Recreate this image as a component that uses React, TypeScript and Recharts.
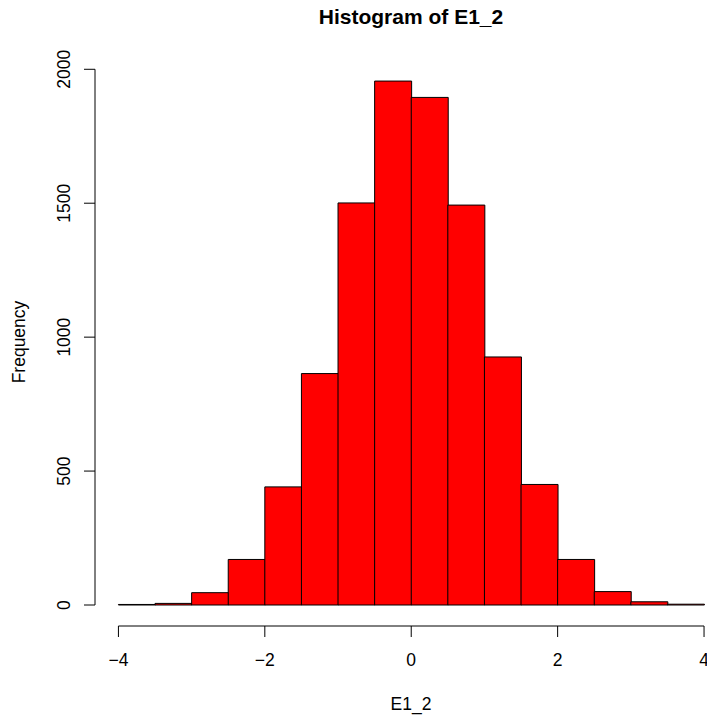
import React from "react";
import { BarChart, Bar, XAxis, YAxis, ReferenceLine } from "recharts";

const binCenters = [-3.75, -3.25, -2.75, -2.25, -1.75, -1.25, -0.75, -0.25, 0.25, 0.75, 1.25, 1.75, 2.25, 2.75, 3.25, 3.75];
const frequencies = [2, 6, 46, 170, 441, 864, 1501, 1956, 1895, 1493, 926, 450, 170, 50, 12, 3];
const xTicks = [-4, -2, 0, 2, 4];
const yTicks = [0, 500, 1000, 1500, 2000];

const data = binCenters.map((x, i) => ({ x, count: frequencies[i] }));

const FONT = "'Liberation Sans', Arial, Helvetica, sans-serif";
const FS = 17.5;

const XTick = (props: any) => {
  const { x, y, payload } = props;
  const label = String(payload.value).replace("-", "\u2212");
  return (
    <text x={x} y={y + 29} textAnchor="middle" fontSize={FS} fontFamily={FONT} fill="#000">
      {label}
    </text>
  );
};

const YTick = (props: any) => {
  const { x, y, payload } = props;
  return (
    <text
      x={x}
      y={y}
      transform={`rotate(-90 ${x} ${y})`}
      textAnchor="middle"
      fontSize={FS}
      fontFamily={FONT}
      fill="#000"
    >
      {payload.value}
    </text>
  );
};

export default function App() {
  const W = 707;
  const H = 715;
  return (
    <div style={{ position: "relative", width: W, height: H, overflow: "hidden" }}>
      <style>{"html,body{margin:0;padding:0;overflow:hidden}"}</style>
      <BarChart
        width={W}
        height={H}
        data={data}
        margin={{ top: 59, right: 1.5, left: 0, bottom: 0 }}
        barCategoryGap={0}
        barGap={0}
      >
        <XAxis
          dataKey="x"
          type="number"
          domain={[-4.32, 4.02]}
          allowDataOverflow
          ticks={xTicks}
          interval={0}
          height={89}
          axisLine={false}
          tickSize={11}
          tickMargin={0}
          tickLine={{ stroke: "#000", strokeWidth: 1 }}
          tick={<XTick />}
        />
        <YAxis
          type="number"
          domain={[-78.4, 2038.4]}
          allowDataOverflow
          ticks={yTicks}
          interval={0}
          width={95}
          axisLine={false}
          tickSize={11}
          tickMargin={14}
          tickLine={{ stroke: "#000", strokeWidth: 1 }}
          tick={<YTick />}
        />
        <Bar
          dataKey="count"
          fill="#FF0000"
          stroke="#000"
          strokeWidth={1}
          isAnimationActive={false}
        />
        <ReferenceLine
          segment={[{ x: xTicks[0], y: -78.4 }, { x: xTicks[xTicks.length - 1], y: -78.4 }]}
          stroke="#000"
          strokeWidth={1}
          ifOverflow="visible"
        />
        <ReferenceLine
          segment={[{ x: -4.32, y: yTicks[0] }, { x: -4.32, y: yTicks[yTicks.length - 1] }]}
          stroke="#000"
          strokeWidth={1}
          ifOverflow="visible"
        />
      </BarChart>
      <svg
        width={W}
        height={H}
        style={{ position: "absolute", left: 0, top: 0, pointerEvents: "none" }}
      >
        <text x={411} y={23.5} textAnchor="middle" fontSize={21} fontWeight="bold" fontFamily={FONT} fill="#000">
          Histogram of E1_2
        </text>
        <text x={411} y={710} textAnchor="middle" fontSize={FS} fontFamily={FONT} fill="#000">
          E1_2
        </text>
        <text
          x={25}
          y={342}
          transform="rotate(-90 25 342)"
          textAnchor="middle"
          fontSize={FS}
          fontFamily={FONT}
          fill="#000"
        >
          Frequency
        </text>
      </svg>
    </div>
  );
}
